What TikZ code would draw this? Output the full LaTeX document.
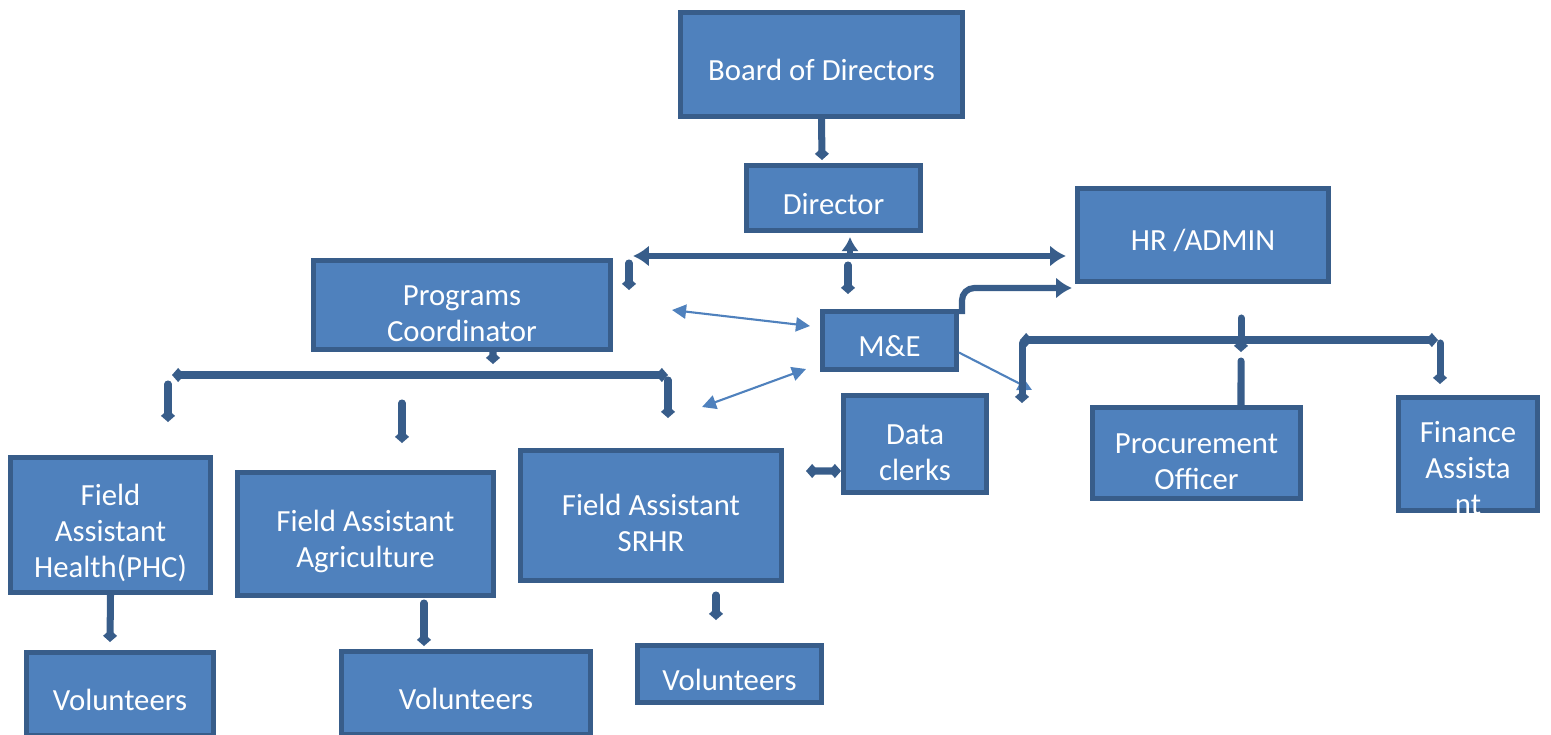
\documentclass[tikz,border=0pt]{standalone}
\usepackage{fontspec}
\setmainfont{Carlito}
\usetikzlibrary{arrows.meta}

\definecolor{boxfill}{HTML}{4F81BD}
\definecolor{boxline}{HTML}{385D8A}

% lifts the first line so the text sits a little low in its box
\newcommand\up{\rule{0pt}{1.2em}}

\tikzset{
  box/.style={draw=boxline,fill=boxfill,line width=2.8pt,text=white,align=center,inner sep=0pt,
    font=\fontsize{17.5}{20.4}\selectfont,execute at begin node={\rule{0pt}{1.07em}}},
  stub/.style={draw=boxline,line width=4pt,line cap=round,-{Diamond[length=7pt,width=8pt]}},
  twostub/.style={stub,{Diamond[length=7pt,width=8pt]}-{Diamond[length=7pt,width=8pt]}},
  fork/.style={draw=boxline,line width=3.5pt,{Latex[length=9pt,width=12pt]}-{Latex[length=9pt,width=12pt]}},
  pointer/.style={draw=boxfill,line width=1.2pt,{Triangle[length=8pt,width=8pt]}-{Triangle[length=8pt,width=8pt]}}
}

\begin{document}
\begin{tikzpicture}[x=0.02cm,y=-0.02cm]
\useasboundingbox (0,0) rectangle (1551,734);
\clip (0,0) rectangle (1551,734);

% boxes
\node[box,minimum width=5.64cm,minimum height=2.08cm] (board) at (821.5,64.5) {Board of Directors};
\node[box,minimum width=3.48cm,minimum height=1.30cm] (director) at (833.5,198) {Director};
\node[box,minimum width=5.02cm,minimum height=1.86cm] (hradmin) at (1203,235) {HR /ADMIN};
\node[box,minimum width=5.94cm,minimum height=1.78cm] (progcoord) at (462,305) {\up Programs\\Coordinator};
\node[box,minimum width=2.68cm,minimum height=1.16cm] (me) at (889.5,340.5) {M\&E};
\node[box,minimum width=2.86cm,minimum height=1.94cm] (clerks) at (915,444) {\up Data\\clerks};
\node[box,minimum width=4.16cm,minimum height=1.82cm] (procure) at (1196.5,453) {\up Procurement\\Officer};
\node[box,minimum width=2.78cm,minimum height=2.26cm] (finance) at (1468,454)
  {\raisebox{-5pt}[0pt][0pt]{\begin{tabular}{@{}c@{}}Finance\\Assista\\nt\end{tabular}}};
\node[box,minimum width=4.00cm,minimum height=2.70cm] (fahealth) at (110.5,525) {\up Field\\Assistant\\Health(PHC)};
\node[box,minimum width=5.12cm,minimum height=2.46cm] (faagri) at (365.5,534) {\up Field Assistant\\Agriculture};
\node[box,minimum width=5.22cm,minimum height=2.60cm] (fasrhr) at (651,515.5) {\up Field Assistant\\SRHR};
\node[box,minimum width=3.74cm,minimum height=1.66cm] (vol1) at (120,694) {Volunteers};
\node[box,minimum width=4.98cm,minimum height=1.66cm] (vol2) at (466,693) {Volunteers};
\node[box,minimum width=3.68cm,minimum height=1.14cm] (vol3) at (729.5,674) {Volunteers};

% loose ends of the connectors
\foreach \n/\x/\y in {brd/822/160, dup/850/237, dbar/850/256, barl/633/256, barr/1066/256,
    pl1/629/263, pl2/629/290, mid1/848/265, mid2/848/294, hrin/1072/288, elb/962/314,
    tl1/672/310, tl2/810/326, bl1/702/407, bl2/806/369, mearr/1032/390,
    pc/493/364, fl/172/375, fr/668/375, h1/168/384, h2/168/422, a1/402/403, a2/402/443,
    s1/668/380, s2/668/418, hr1/1241/318, hr2/1241/352, gl/1020/340, gr/1438/340,
    p1/1022/343, p2/1022/403, f1/1440/343, f2/1440/384, pr/1241/361, dc/806/471,
    sr1/716/595, sr2/716/620, he/110/642, ag1/424/603, ag2/424/646}
  \coordinate (\n) at (\x,\y);

% director and the levels under it
\draw[stub] (board.south) -- (brd);
\draw[fork] (barl) -- (barr);
\draw[draw=boxline,line width=3pt,-{Latex[length=8pt,width=10pt]}] (dbar) -- (dup);
\draw[stub] (pl1) -- (pl2);
\draw[stub] (mid1) -- (mid2);
\draw[draw=boxline,line width=3.5pt,rounded corners=7pt,-{Latex[length=9pt,width=12pt]}] (elb) |- (hrin);

% M&E links
\draw[pointer] (tl1) -- (tl2);
\draw[pointer] (bl1) -- (bl2);
\draw[pointer,-{Triangle[length=8pt,width=8pt]}] ([yshift=-0.24cm]me.east) -- (mearr);

% programs side
\draw[stub] ([xshift=0.62cm]progcoord.south) -- (pc);
\draw[twostub] (fl) -- (fr);
\draw[stub] (h1) -- (h2);
\draw[stub] (a1) -- (a2);
\draw[stub] (s1) -- (s2);

% admin side
\draw[stub] (hr1) -- (hr2);
\draw[twostub] (gl) -- (gr);
\draw[stub] (p1) -- (p2);
\draw[stub] (f1) -- (f2);
\draw[draw=boxline,line width=4pt,line cap=round] (pr) -- ([xshift=0.89cm]procure.north);
\draw[twostub] ([yshift=-0.54cm]clerks.west) -- (dc);

% down to the volunteers
\draw[stub] (sr1) -- (sr2);
\draw[stub] (fahealth.south) -- (he);
\draw[stub] (ag1) -- (ag2);
\end{tikzpicture}
\end{document}
